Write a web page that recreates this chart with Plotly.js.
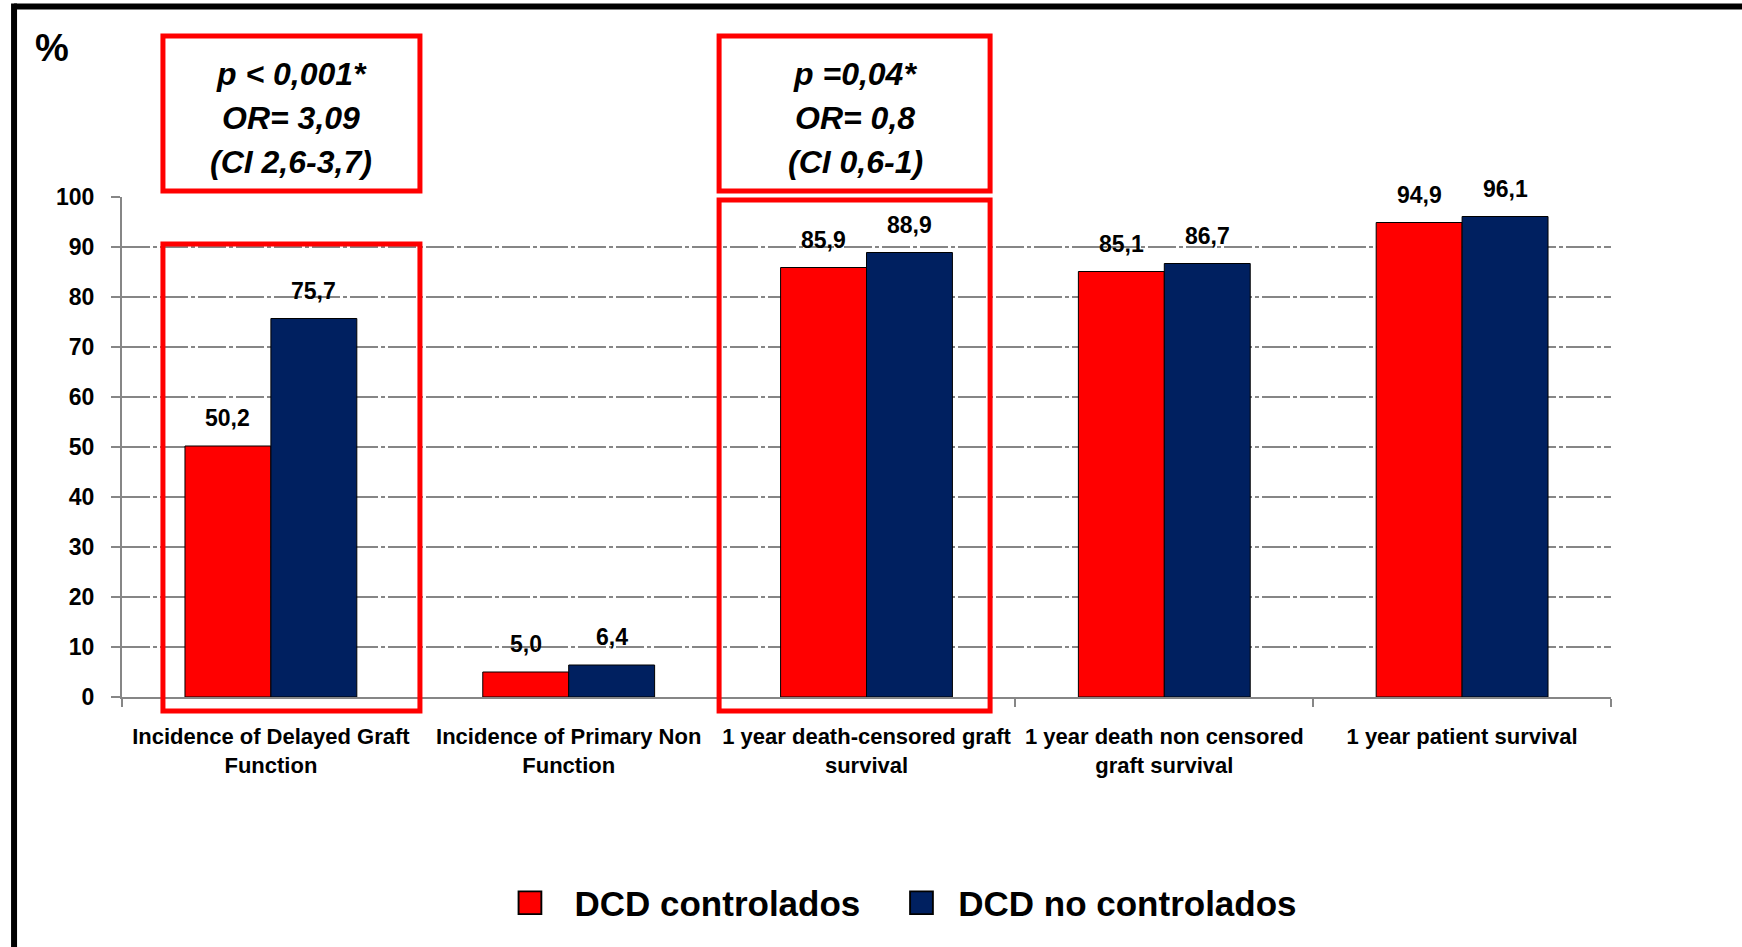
<!DOCTYPE html>
<html>
<head>
<meta charset="utf-8">
<script src="https://cdn.plot.ly/plotly-3.0.1.min.js"></script>
<style>
  html, body { margin: 0; padding: 0; background: #fff; }
  #chart { width: 1742px; height: 947px; }
</style>
</head>
<body>
<div id="chart"></div>
<script>
const categories = [
  "Incidence of Delayed Graft<br>Function",
  "Incidence of Primary Non<br>Function",
  "1 year death-censored graft<br>survival",
  "1 year death non censored<br>graft survival",
  "1 year patient survival"
];
const seriesNames = ["DCD controlados", "DCD no controlados"];
const controlados = [50.2, 5.0, 85.9, 85.1, 94.9];
const noControlados = [75.7, 6.4, 88.9, 86.7, 96.1];
const yTicks = [0, 10, 20, 30, 40, 50, 60, 70, 80, 90, 100];
const statBox1 = ["p < 0,001*", "OR= 3,09", "(CI 2,6-3,7)"];
const statBox2 = ["p =0,04*", "OR= 0,8", "(CI 0,6-1)"];

const FONT = "'Liberation Sans', Arial, sans-serif";
const RED = "#FF0000";
const NAVY = "#002060";
const GRID = "#868686";
const NBSP = "\u00A0";
const ENSP = "\u2002";
const THIN = "\u2009";

const traces = [
  {
    type: "bar", name: ENSP + THIN + seriesNames[0] + NBSP.repeat(3) + THIN, x: categories, y: controlados,
    marker: { color: RED, line: { color: "#000", width: 1 } },
    hoverinfo: "skip"
  },
  {
    type: "bar", name: NBSP + THIN + seriesNames[1], x: categories, y: noControlados,
    marker: { color: NAVY, line: { color: "#000", width: 1 } },
    hoverinfo: "skip"
  }
];

const fmt = v => v.toFixed(1).replace(".", ",");
const annotations = [];
[controlados, noControlados].forEach((vals, si) => {
  vals.forEach((v, i) => {
    annotations.push({
      x: categories[i], y: v, xref: "x", yref: "y",
      xshift: si === 0 ? -43 : 43, yshift: 13,
      yanchor: "bottom", showarrow: false,
      text: fmt(v),
      font: { family: FONT, size: 23, color: "#000", weight: "bold" }
    });
  });
});
annotations.push({
  x: -0.047, y: 1.298, xref: "paper", yref: "paper", showarrow: false,
  xanchor: "center", yanchor: "middle", text: "%",
  font: { family: FONT, size: 38, color: "#000", weight: "bold" }
});
const boxCenters = [0.1135, 0.4923];
const lineY = [1.246, 1.158, 1.07];
[statBox1, statBox2].forEach((lines, b) => {
  lines.forEach((t, j) => {
    annotations.push({
      x: boxCenters[b], y: lineY[j], xref: "paper", yref: "paper", showarrow: false,
      xanchor: "center", yanchor: "middle", text: t,
      font: { family: FONT, size: 32, color: "#000", weight: "bold", style: "italic" }
    });
  });
});

const redBox = (x0, x1, y0, y1) => ({
  type: "rect", xref: "paper", yref: "paper", x0, x1, y0, y1,
  line: { color: RED, width: 5 }, fillcolor: "rgba(0,0,0,0)", layer: "above"
});
const shapes = [
  redBox(0.0275, 0.2001, 1.012, 1.322),
  redBox(0.0275, 0.2001, -0.028, 0.906),
  redBox(0.401, 0.583, 1.012, 1.322),
  redBox(0.401, 0.583, -0.028, 0.994),
  { type: "line", xref: "paper", yref: "paper", x0: -0.0725, x1: 1.09, y0: 1.381, y1: 1.381,
    line: { color: "#000", width: 6 } },
  { type: "line", xref: "paper", yref: "paper", x0: -0.0725, x1: -0.0725, y0: 1.387, y1: -0.51,
    line: { color: "#000", width: 6 } }
];

const layout = {
  width: 1742, height: 947,
  margin: { l: 122, r: 131, t: 197, b: 250 },
  paper_bgcolor: "#fff", plot_bgcolor: "#fff",
  barmode: "group", bargap: 0.423, bargroupgap: 0,
  showlegend: true,
  legend: {
    orientation: "h", x: 0.5265, xanchor: "center", y: -0.412, yanchor: "middle",
    font: { family: FONT, size: 35, color: "#000", weight: "bold" },
    traceorder: "normal", itemclick: false, itemdoubleclick: false
  },
  xaxis: {
    type: "category", showgrid: false, zeroline: false,
    showline: true, linecolor: GRID, linewidth: 2,
    ticks: "outside", tickson: "boundaries", ticklen: 8, tickwidth: 2, tickcolor: GRID,
    tickangle: 0, ticklabelstandoff: 19,
    tickfont: { family: FONT, size: 22, color: "#000", weight: "bold" },
    fixedrange: true
  },
  yaxis: {
    range: [0, 100], tickvals: yTicks, ticktext: yTicks.map(String),
    showgrid: true, gridcolor: GRID, gridwidth: 2, griddash: "28px,3px,4px,3px",
    zeroline: false, showline: true, linecolor: GRID, linewidth: 2,
    ticks: "outside", ticklen: 9, tickwidth: 2, tickcolor: GRID,
    ticklabelstandoff: 12,
    tickfont: { family: FONT, size: 23, color: "#000", weight: "bold" },
    fixedrange: true
  },
  annotations, shapes
};

Plotly.newPlot("chart", traces, layout, { displayModeBar: false, staticPlot: true }).then(() => {
  document.querySelectorAll(".legend .legendpoints path").forEach(p => {
    const t = p.getAttribute("transform") || "";
    p.setAttribute("transform", t + " scale(1.9)");
  });
});
</script>
</body>
</html>
